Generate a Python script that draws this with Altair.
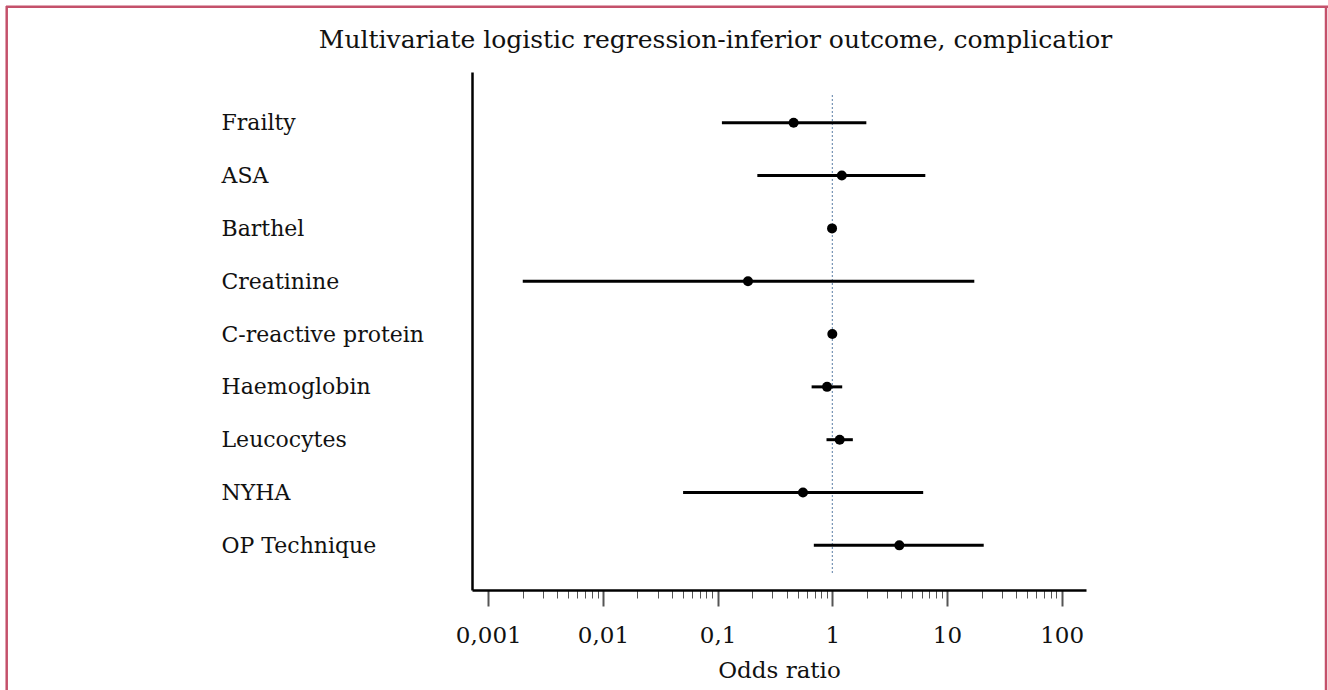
import altair as alt
import pandas as pd

# ---- data ----
variables = ["Frailty", "ASA", "Barthel", "Creatinine", "C-reactive protein",
             "Haemoglobin", "Leucocytes", "NYHA", "OP Technique"]
odds_ratio = [0.46, 1.21, 0.995, 0.184, 1.00, 0.90, 1.16, 0.555, 3.84]
ci_low = [0.109, 0.222, 0.985, 0.0020, 0.99, 0.66, 0.89, 0.050, 0.69]
ci_high = [1.98, 6.47, 1.005, 17.3, 1.01, 1.22, 1.51, 6.2, 20.9]

major_ticks = [0.001, 0.01, 0.1, 1, 10, 100]
major_labels = ["0,001", "0,01", "0,1", "1", "10", "100"]
minor_ticks = [m * d for d in [0.001, 0.01, 0.1, 1, 10] for m in range(2, 10)]

title_text = "Multivariate logistic regression-inferior outcome, complicatior"
x_title = "Odds ratio"

df = pd.DataFrame({
    "variable": variables,
    "idx": list(range(len(variables))),
    "or": odds_ratio,
    "lo": ci_low,
    "hi": ci_high,
})

FONT = "DejaVu Serif"
BORDER = "#c4516b"

label_expr = " : ".join(
    f"datum.value == {v} ? '{l}'" for v, l in zip(major_ticks, major_labels)
) + " : ''"
is_major = "indexof([" + ",".join(str(v) for v in major_ticks) + "], datum.value) >= 0"

y_label_expr = " : ".join(
    f"datum.value == {i} ? '{n}'" for i, n in enumerate(variables)
) + " : ''"

x_scale = alt.Scale(type="log", domain=[0.000722, 162.9], nice=False, zero=False)
y_scale = alt.Scale(domain=[-0.96, 8.845], reverse=True, nice=False, zero=False)

x_axis = alt.Axis(
    values=major_ticks + minor_ticks,
    labelExpr=label_expr,
    tickSize={"condition": {"test": is_major, "value": 16}, "value": 8},
    tickWidth={"condition": {"test": is_major, "value": 2}, "value": 1},
    tickColor="#555555",
    domainColor="#000000",
    domainWidth=2.5,
    grid=False,
    labelFont=FONT,
    labelFontSize=23,
    labelColor="#111111",
    labelPadding=18,
    labelOverlap=False,
    labelFlush=False,
    labelLimit=0,
    title=x_title,
    titleFont=FONT,
    titleFontSize=23,
    titleFontWeight="normal",
    titleColor="#111111",
    titlePadding=12,
)

y_axis = alt.Axis(
    values=list(range(len(variables))),
    labelExpr=y_label_expr,
    ticks=False,
    tickSize=0,
    domainColor="#000000",
    domainWidth=2.5,
    grid=False,
    labelAlign="left",
    labelBaseline="middle",
    labelPadding=251,
    labelFont=FONT,
    labelFontSize=22,
    labelColor="#111111",
    labelOverlap=False,
    labelFlush=False,
    labelLimit=0,
    title=None,
)

base = alt.Chart(df)

refline = alt.Chart(pd.DataFrame({"v": [1]})).mark_rule(
    color="#5b7ea6", strokeWidth=1, strokeDash=[2, 2]
).encode(
    x=alt.X("v:Q", scale=x_scale, axis=x_axis),
    y=alt.value(23),
    y2=alt.value(503),
)

bars = base.mark_rule(color="#000000", strokeWidth=3).encode(
    x=alt.X("lo:Q", scale=x_scale, axis=x_axis),
    x2="hi:Q",
    y=alt.Y("idx:Q", scale=y_scale, axis=y_axis),
)

points = base.mark_circle(color="#000000", opacity=1, size=100).encode(
    x=alt.X("or:Q", scale=x_scale, axis=x_axis),
    y=alt.Y("idx:Q", scale=y_scale, axis=y_axis),
)

one = pd.DataFrame({"k": [0]})
title_mark = alt.Chart(one).mark_text(
    font=FONT, fontSize=25, color="#111111", align="center", baseline="middle"
).encode(
    text=alt.value(title_text), x=alt.value(243.5), y=alt.value(-32)
)
border_top = alt.Chart(one).mark_rule(color=BORDER, strokeWidth=2.5).encode(
    x=alt.value(-466), x2=alt.value(856), y=alt.value(-65.3)
)
border_left = alt.Chart(one).mark_rule(color=BORDER, strokeWidth=2.5).encode(
    x=alt.value(-465.3), y=alt.value(-66), y2=alt.value(620)
)
border_right = alt.Chart(one).mark_rule(color=BORDER, strokeWidth=2.5).encode(
    x=alt.value(854), y=alt.value(-66), y2=alt.value(620)
)

chart = alt.layer(
    refline, bars, points, title_mark, border_top, border_left, border_right
).properties(
    width=614,
    height=518,
    autosize=alt.AutoSizeParams(type="none"),
    padding={"left": 472, "top": 72, "right": 242, "bottom": 100},
    background="#ffffff",
).configure_view(stroke=None)

chart.save("out.html", embed_options={"renderer": "svg", "actions": False})
